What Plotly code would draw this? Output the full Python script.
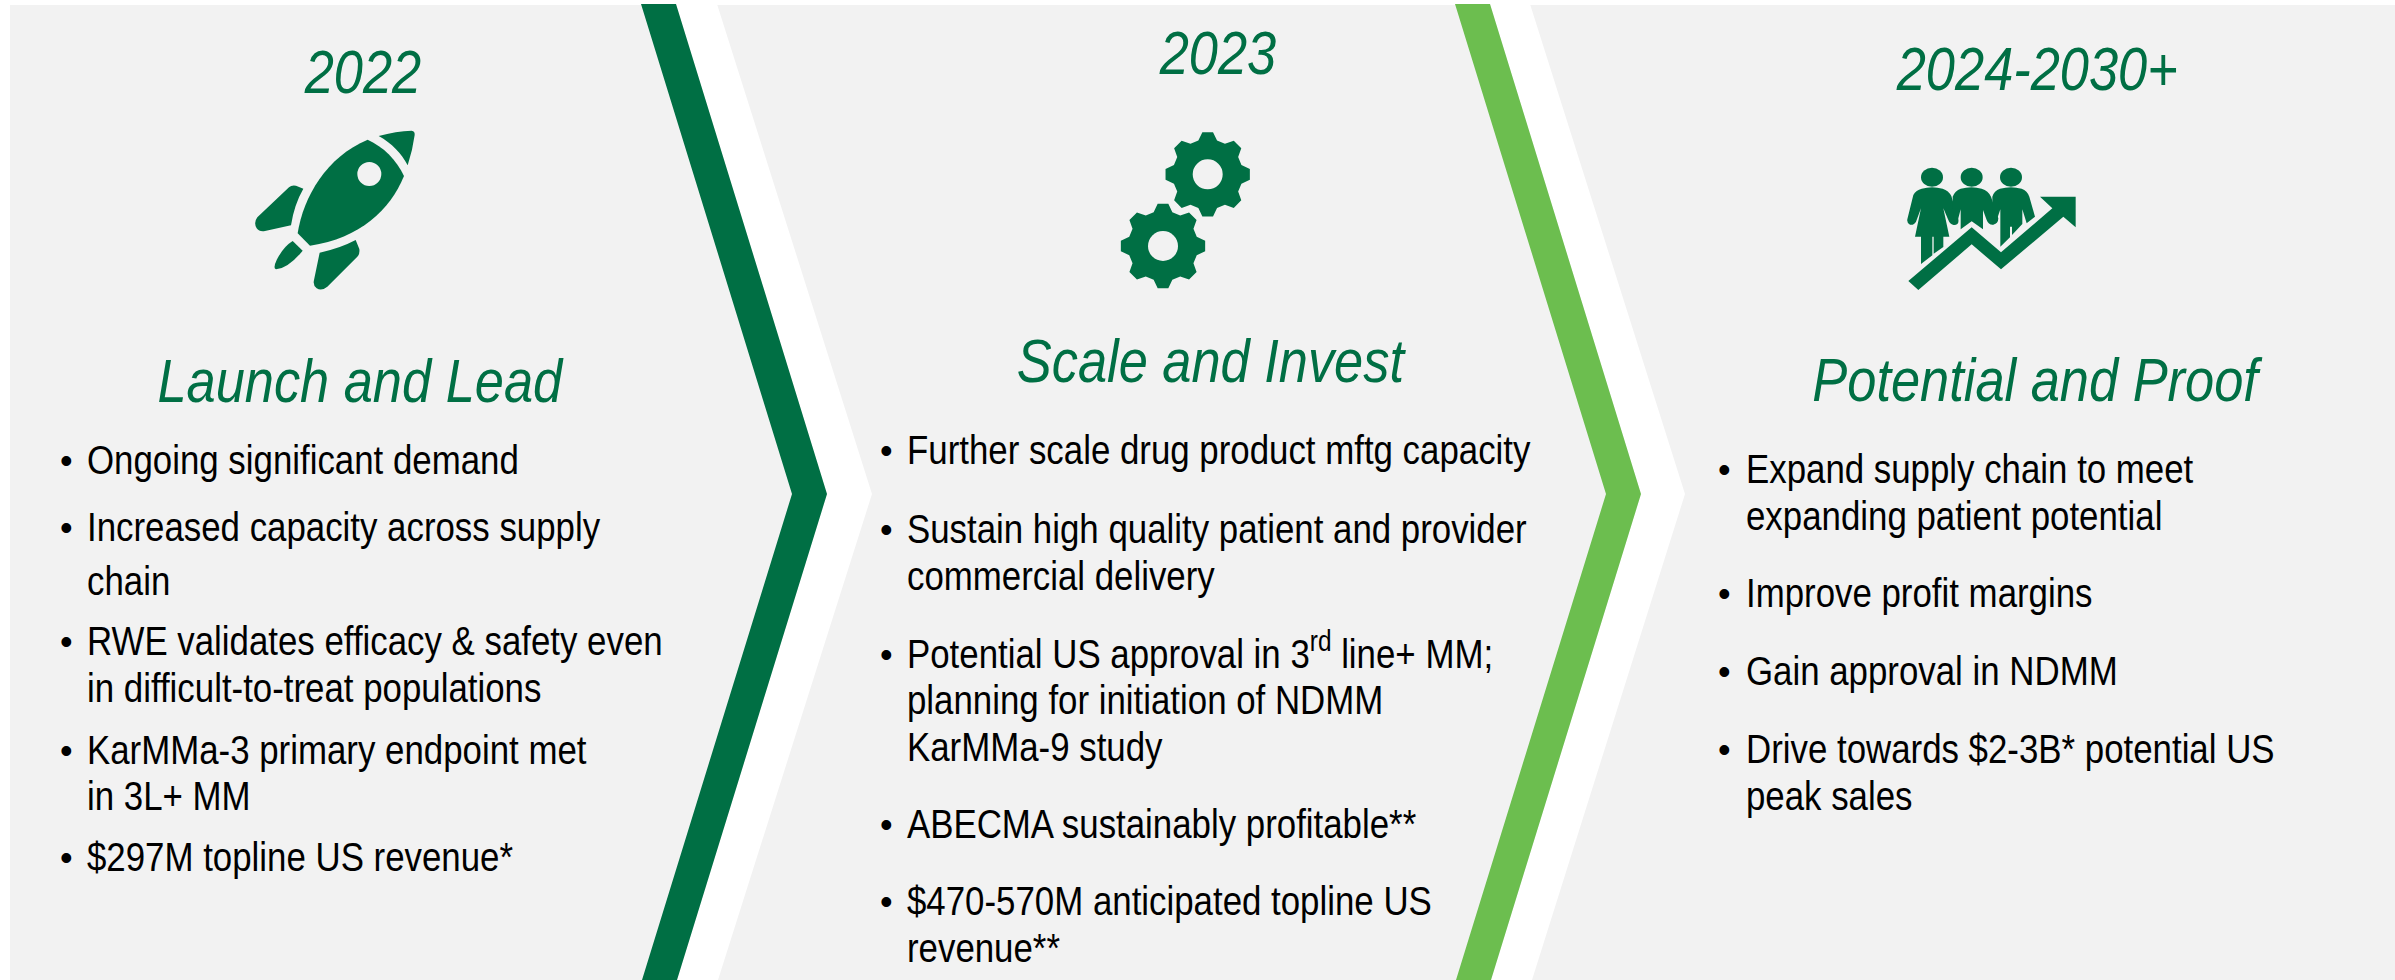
import math
import plotly.graph_objects as go

W, H = 2395, 980
GREEN = "#006F44"
LIME = "#6CBE4F"
GRAY = "#F2F2F2"
FONT = "Liberation Sans"

years = ["2022", "2023", "2024-2030+"]
year_pos = [(362, 71), (1217, 52), (2037, 68)]
themes = ["Launch and Lead", "Scale and Invest", "Potential and Proof"]
theme_pos = [(361, 380), (1211, 360), (2037, 379)]

bullets_1 = [["Ongoing significant demand"],
             ["Increased capacity across supply", "chain"],
             ["RWE validates efficacy & safety even", "in difficult-to-treat populations"],
             ["KarMMa-3 primary endpoint met", "in 3L+ MM"],
             ["$297M topline US revenue*"]]
lines_y_1 = [[460], [527, 581], [641, 688], [750, 796], [857]]
bullets_2 = [["Further scale drug product mftg capacity"],
             ["Sustain high quality patient and provider", "commercial delivery"],
             ["Potential US approval in 3<sup>rd</sup> line+ MM;", "planning for initiation of NDMM", "KarMMa-9 study"],
             ["ABECMA sustainably profitable**"],
             ["$470-570M anticipated topline US", "revenue**"]]
lines_y_2 = [[450], [529, 576], [651, 700, 747], [824], [901, 948]]
bullets_3 = [["Expand supply chain to meet", "expanding patient potential"],
             ["Improve profit margins"],
             ["Gain approval in NDMM"],
             ["Drive towards $2-3B* potential US", "peak sales"]]
lines_y_3 = [[469, 516], [593], [671], [749, 796]]
columns = [(bullets_1, lines_y_1, 66, 84.5), (bullets_2, lines_y_2, 886, 904.5), (bullets_3, lines_y_3, 1724, 1743.5)]

shapes, ann = [], []

def poly(pts, color, layer="above"):
    d = "M" + " L".join(f"{x},{y}" for x, y in pts) + " Z"
    shapes.append(dict(type="path", path=d, fillcolor=color, line_width=0, layer=layer))

def icon_path(d, ox, oy, color=GREEN, s=3.0):
    out, is_x = [], True
    for tok in d.split():
        if tok[0].isalpha():
            out.append(tok); is_x = True
        else:
            v = float(tok)
            out.append(f"{ox + v / s:.2f}" if is_x else f"{oy + v / s:.2f}")
            is_x = not is_x
    shapes.append(dict(type="path", path=" ".join(out), fillcolor=color, line_width=0))

def ellipse(cx, cy, rx, ry, color):
    shapes.append(dict(type="circle", x0=cx - rx, x1=cx + rx, y0=cy - ry, y1=cy + ry,
                       fillcolor=color, line_width=0))

# panels
poly([(10, 5), (W, 5), (W, H), (10, H)], GRAY)
# chevrons: white then coloured
poly([(676, 4), (717, 4), (872, 494), (718, H), (677, H), (827, 494)], "white")
poly([(641, 4), (676, 4), (827, 494), (677, H), (642, H), (792, 494)], GREEN)
poly([(1490, 4), (1530, 4), (1685, 494), (1532, H), (1491, H), (1641, 494)], "white")
poly([(1455, 4), (1490, 4), (1641, 494), (1491, H), (1456, H), (1606, 494)], LIME)

# rocket
RX, RY = 220, 100
icon_path("M 443 119 C 490 140 530 180 552 228 C 510 330 420 415 270 437 L 233 400 C 250 290 320 170 443 119 Z", RX, RY)
icon_path("M 476 108 C 510 98 545 93 575 92 Q 585 93 584 105 Q 578 150 563 196 C 545 160 515 130 476 108 Z", RX, RY)
icon_path("M 250 266 L 228 257 Q 215 254 207 262 L 112 352 Q 100 368 110 385 Q 118 396 135 393 L 213 376 Q 222 315 250 266 Z", RX, RY)
icon_path("M 218 423 L 248 452 Q 205 505 168 508 Q 158 505 170 480 Q 190 440 218 423 Z", RX, RY)
icon_path("M 407 420 L 418 447 Q 420 462 412 470 L 322 560 Q 305 574 290 565 Q 278 556 282 540 L 299 458 Q 360 445 407 420 Z", RX, RY)
ellipse(RX + 448 / 3, RY + 222 / 3, 12, 12, GRAY)

# gears
def gear(cx, cy):
    pts = []
    for k in range(8):
        t = k * 45
        for a, r in [(-15.5, 35), (-7.2, 42.5), (7.2, 42.5), (15.5, 35)]:
            th = math.radians(t + a)
            pts.append((round(cx + r * math.sin(th), 2), round(cy - r * math.cos(th), 2)))
    poly(pts, GREEN)
    ellipse(cx, cy, 15, 15, GRAY)
gear(1207.7, 174.3)
gear(1163, 246)

# people and rising arrow
PX, PY = 1890, 150
for hx in (126, 245, 363):
    ellipse(PX + hx / 3, PY + 82 / 3, 11, 9.5, GREEN)
icon_path("M 95 116 Q 126 107 158 116 Q 176 122 184 138 L 205 208 Q 208 224 192 225 Q 180 224 175 210 L 160 175 L 178 260 L 160 260 L 160 291 L 131 311 L 131 260 L 127 260 L 127 316 L 93 342 L 93 260 L 75 260 L 93 175 L 78 215 Q 72 226 60 224 Q 50 220 52 208 L 70 135 Q 78 120 95 116 Z", PX, PY)
icon_path("M 212 116 Q 245 107 275 116 Q 295 122 303 140 L 325 205 Q 325 222 308 224 Q 295 224 290 210 L 279 180 L 279 238 L 245 214 L 212 238 L 212 178 L 203 212 Q 198 225 190 224 L 188 140 Q 195 122 212 116 Z", PX, PY)
icon_path("M 330 116 Q 363 107 395 116 Q 412 122 418 140 L 435 200 L 410 220 L 397 178 L 397 222 L 366 255 L 366 230 L 360 230 L 360 262 L 331 290 L 331 178 L 322 205 Q 318 222 308 224 L 307 140 Q 312 122 330 116 Z", PX, PY)
icon_path("M 55 393 L 245 232 L 333 307 L 487 175 L 450 140 L 557 140 L 557 232 L 520 200 L 333 358 L 245 283 L 85 420 Z", PX, PY)

def text(x, y, s, size, color="black", anchor="left", italic=False):
    ann.append(dict(x=x, y=y, xref="x", yref="y", text=s, showarrow=False, xanchor=anchor, yanchor="middle",
                    align=anchor, font=dict(family=FONT, size=size, color=color, style="italic" if italic else "normal")))

for s, (x, y) in zip(years, year_pos):
    text(x, y, s, 62, GREEN, "center", True)
for s, (x, y) in zip(themes, theme_pos):
    text(x, y, s, 62, GREEN, "center", True)
for groups, ys, bx, tx in columns:
    for lines, yy in zip(groups, ys):
        text(bx, yy[0] + (3 if "<sup>" in lines[0] else 0), "•", 36, anchor="center")
        for line, y in zip(lines, yy):
            text(tx, y, line, 41)

fig = go.Figure()
fig.update_layout(width=W, height=H, margin=dict(l=0, r=0, t=0, b=0), showlegend=False,
                  paper_bgcolor="white", plot_bgcolor="white", shapes=shapes, annotations=ann,
                  xaxis=dict(range=[0, W], visible=False, fixedrange=True),
                  yaxis=dict(range=[H, 0], visible=False, fixedrange=True))

# The reference's type is horizontally condensed; narrow the real text, and drop the page margin.
POST = """
document.body.style.margin = '0';
document.querySelectorAll('.annotation-text').forEach(function (t) {
  if (t.textContent === '\\u2022') return;
  var centred = t.style.fontStyle === 'italic';
  t.style.transformBox = 'fill-box';
  t.style.transformOrigin = centred ? 'center' : 'left';
  t.style.transform = 'scaleX(' + (centred ? 0.845 : 0.85) + ')';
});
"""
fig.write_html("out.html", config=dict(displayModeBar=False), post_script=POST)
